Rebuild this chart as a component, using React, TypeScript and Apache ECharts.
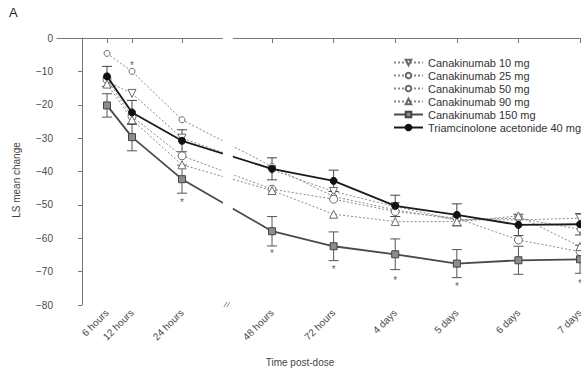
import React, { useEffect, useRef } from "react";
import * as echarts from "echarts";

// Time points (hours post-dose) and their tick labels
const tickHours = [6, 12, 24, 48, 72, 96, 120, 144, 168];
const tickLabels = ["6 hours", "12 hours", "24 hours", "48 hours", "72 hours", "4 days", "5 days", "6 days", "7 days"];
const yTicks = [0, -10, -20, -30, -40, -50, -60, -70, -80];

const seriesNames = [
  "Canakinumab 10 mg",
  "Canakinumab 25 mg",
  "Canakinumab 50 mg",
  "Canakinumab 90 mg",
  "Canakinumab 150 mg",
  "Triamcinolone acetonide 40 mg",
];

// LS mean change values
const can10 = [-13.0, -16.6, -30.0, -39.5, -46.0, -50.5, -54.5, -54.5, -54.0];
const can25 = [-4.6, -10.0, -24.5, -38.5, -47.5, -51.5, -54.5, -54.0, -57.3];
const can50 = [-12.5, -23.5, -35.3, -45.3, -48.3, -52.0, -54.0, -60.5, -64.0];
const can90 = [-13.8, -24.5, -38.0, -45.7, -52.8, -55.0, -55.0, -53.3, -62.5];
const can150 = [-20.2, -29.7, -42.3, -57.9, -62.4, -64.8, -67.6, -66.6, -66.3];
const ta40 = [-11.5, -22.3, -30.8, -39.2, -42.8, -50.3, -53.0, -56.0, -55.8];

// Standard errors (shown as error bars)
const can150SE = [3.5, 4.1, 4.2, 4.4, 4.3, 4.6, 4.2, 4.2, 4.2];
const ta40SE = [3.0, 3.6, 3.3, 3.3, 3.2, 3.2, 3.3, 3.2, 3.2];

// Significance asterisks
const starHours = [12, 24, 48, 72, 96, 120, 168];
const starValues = [-7.2, -48.5, -63.8, -68.5, -71.8, -73.6, -72.8];

// Broken time axis: hours up to 24 h on one scale, 48 h onward compressed
const BREAK_START = 33.8;
const BREAK_END = 36.2;
const BREAK_MID = 35.0;
function pos(h: number): number {
  return h <= 24 ? h : 45.6 + (h - 48) * 0.616;
}

const FONT = "'Liberation Sans', Arial, sans-serif";

export default function App() {
  const ref = useRef<HTMLDivElement>(null);

  useEffect(() => {
    if (!ref.current) return;
    const chart = echarts.init(ref.current, undefined, { renderer: "svg" });
    const tickPos = tickHours.map(pos);

    const mk = (vals: number[]) => vals.map((v, i) => [tickPos[i], v]);
    const errData = (vals: number[], se: number[]) =>
      vals.map((v, i) => [tickPos[i], v - se[i], v + se[i]]);

    const dotted = (name: string, vals: number[], symbol: string, size: number, rotate = 0) => ({
      name,
      type: "line",
      data: mk(vals),
      symbol,
      symbolSize: size,
      symbolRotate: rotate,
      showAllSymbol: true,
      lineStyle: { color: "#8a8a8a", width: 1, type: [2, 2] },
      itemStyle: { color: "#ffffff", borderColor: "#6a6a6a", borderWidth: 1 },
      z: 3,
    });

    const errSeries = (vals: number[], se: number[], color: string) => ({
      type: "custom",
      data: errData(vals, se),
      z: 2,
      silent: true,
      renderItem: (_p: any, api: any) => {
        const x = api.value(0);
        const lo = api.coord([x, api.value(1)]);
        const hi = api.coord([x, api.value(2)]);
        const w = 5;
        const style = { stroke: color, lineWidth: 1 };
        return {
          type: "group",
          children: [
            { type: "line", shape: { x1: lo[0], y1: lo[1], x2: hi[0], y2: hi[1] }, style },
            { type: "line", shape: { x1: lo[0] - w, y1: lo[1], x2: lo[0] + w, y2: lo[1] }, style },
            { type: "line", shape: { x1: hi[0] - w, y1: hi[1], x2: hi[0] + w, y2: hi[1] }, style },
          ],
        };
      },
    });

    const labelFor = (v: number) => {
      const i = tickPos.findIndex((p) => Math.abs(p - v) < 1e-6);
      return i >= 0 ? tickLabels[i] : "";
    };

    chart.setOption({
      animation: false,
      textStyle: { fontFamily: FONT },
      grid: { left: 57, right: 0, top: 38, bottom: 65, outerBoundsMode: "none", containLabel: false },
      legend: {
        data: seriesNames,
        orient: "vertical",
        left: 393,
        top: 57,
        padding: 0,
        itemWidth: 29,
        itemHeight: 7,
        itemGap: 2,
        textStyle: { fontSize: 11, color: "#333", fontFamily: FONT },
      },
      xAxis: {
        type: "value",
        min: -6,
        max: 119.75,
        splitLine: { show: false },
        axisLine: { lineStyle: { color: "#777", width: 1 } },
        axisTick: { customValues: tickPos, length: 5, lineStyle: { color: "#777" } },
        axisLabel: {
          customValues: tickPos,
          formatter: (v: number) => labelFor(v),
          rotate: 45,
          fontSize: 10,
          color: "#4a4a4a",
          margin: 6,
        },
      },
      yAxis: {
        type: "value",
        min: -80,
        max: 0,
        interval: 10,
        splitLine: { show: false },
        axisLine: { show: true, lineStyle: { color: "#777", width: 1 } },
        axisTick: { show: true, length: 4, lineStyle: { color: "#777" } },
        axisLabel: {
          fontSize: 10,
          color: "#4a4a4a",
          margin: 4,
          formatter: (v: number) => (yTicks.includes(v) ? String(v).replace("-", "\u2212") : ""),
        },
      },
      series: [
        dotted(seriesNames[0], can10, "triangle", 8, 180),
        dotted(seriesNames[1], can25, "circle", 6),
        dotted(seriesNames[2], can50, "circle", 8),
        dotted(seriesNames[3], can90, "triangle", 8),
        {
          name: seriesNames[4],
          type: "line",
          data: mk(can150),
          symbol: "rect",
          symbolSize: 7,
          showAllSymbol: true,
          lineStyle: { color: "#4a4a4a", width: 1.8 },
          itemStyle: { color: "#8c8c8c", borderColor: "#444", borderWidth: 1 },
          z: 4,
        },
        {
          name: seriesNames[5],
          type: "line",
          data: mk(ta40),
          symbol: "circle",
          symbolSize: 7,
          showAllSymbol: true,
          lineStyle: { color: "#1a1a1a", width: 1.8 },
          itemStyle: { color: "#111", borderColor: "#111", borderWidth: 1 },
          z: 5,
        },
        errSeries(can150, can150SE, "#555"),
        errSeries(ta40, ta40SE, "#444"),
        {
          type: "scatter",
          data: starHours.map((h, i) => [pos(h), starValues[i]]),
          symbolSize: 1,
          itemStyle: { color: "rgba(0,0,0,0)" },
          silent: true,
          label: {
            show: true,
            position: "inside",
            formatter: "*",
            fontSize: 10,
            color: "#333",
            offset: [0, 3],
          },
          z: 6,
        },
      ],
    });

    // Axis break: gap in the lines and a break mark on the time axis
    const xs = chart.convertToPixel({ gridIndex: 0 }, [BREAK_START, 0]) as number[];
    const xe = chart.convertToPixel({ gridIndex: 0 }, [BREAK_END, 0]) as number[];
    const xm = chart.convertToPixel({ gridIndex: 0 }, [BREAK_MID, -80]) as number[];
    const top = chart.convertToPixel({ gridIndex: 0 }, [BREAK_MID, 0]) as number[];
    chart.setOption({
      graphic: [
        {
          type: "rect",
          shape: { x: xs[0], y: top[1], width: xe[0] - xs[0], height: xm[1] - top[1] - 2 },
          style: { fill: "#ffffff" },
          z: 100,
        },
        {
          type: "line",
          shape: { x1: xm[0] - 4, y1: xm[1] + 2, x2: xm[0] - 1, y2: xm[1] - 3 },
          style: { stroke: "#888", lineWidth: 1 },
          z: 101,
        },
        {
          type: "line",
          shape: { x1: xm[0] - 1, y1: xm[1] + 2, x2: xm[0] + 2, y2: xm[1] - 3 },
          style: { stroke: "#888", lineWidth: 1 },
          z: 101,
        },
        {
          type: "text",
          left: 9,
          top: 6,
          style: { text: "A", fontSize: 13, fill: "#222", fontFamily: FONT },
        },
        {
          type: "text",
          x: 16,
          y: 180,
          rotation: Math.PI / 2,
          style: {
            text: "LS mean change",
            fontSize: 10,
            fill: "#444",
            fontFamily: FONT,
            align: "center",
            verticalAlign: "middle",
          },
        },
        {
          type: "text",
          x: 300,
          y: 362,
          style: {
            text: "Time post-dose",
            fontSize: 10,
            fill: "#444",
            fontFamily: FONT,
            align: "center",
            verticalAlign: "middle",
          },
        },
      ],
    });

    return () => chart.dispose();
  }, []);

  return (
    <div
      ref={ref}
      style={{ position: "absolute", left: 0, top: 0, width: 581, height: 370, background: "#fff" }}
    />
  );
}
